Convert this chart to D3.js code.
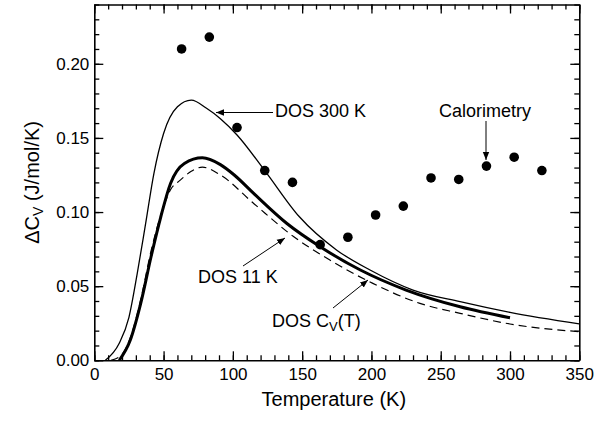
<!DOCTYPE html>
<html>
<head>
<meta charset="utf-8">
<script src="https://cdn.jsdelivr.net/npm/d3@7.9.0/dist/d3.min.js"></script>
<style>
  body { margin: 0; background: #fff; }
  svg { display: block; font-family: "Liberation Sans", Arial, Helvetica, sans-serif; }
  .axis path, .axis line { stroke: #000; }
  .axis text { fill: #000; }
</style>
</head>
<body>
<svg id="chart" width="608" height="425"></svg>
<script>
// calorimetry points
const calTemps = [63, 83, 103, 123, 143, 163, 183, 203, 223, 243, 263, 283, 303, 323];
const calValues = [0.210, 0.218, 0.157, 0.128, 0.120, 0.078, 0.083, 0.098, 0.104, 0.123, 0.122, 0.131, 0.137, 0.128];

// DOS 300 K (thin line)
const dos300Temps = [8, 18, 25, 31, 37, 43, 50, 60, 70, 81, 91, 103, 123, 148, 175, 199, 230, 264, 300, 350];
const dos300Values = [0, 0.0115, 0.029, 0.0586, 0.092, 0.126, 0.153, 0.171, 0.1755, 0.170, 0.163, 0.152, 0.128, 0.0968, 0.0743, 0.0609, 0.0474, 0.0395, 0.0323, 0.0245];

// DOS 11 K (thick line)
const dos11Temps = [18, 26, 33.5, 41, 48, 55, 65, 78, 91, 101, 115, 139, 163, 192, 225, 264, 300];
const dos11Values = [0, 0.0137, 0.0384, 0.070, 0.0968, 0.1193, 0.1328, 0.1366, 0.132, 0.125, 0.1126, 0.0923, 0.0766, 0.0609, 0.0474, 0.0361, 0.0287];

// DOS Cv(T) (dashed line)
const dosCvTemps = [12, 20, 27, 34, 41, 48, 55, 62, 70, 78, 91, 115, 144, 170, 201, 235, 264, 300, 350];
const dosCvValues = [0, 0.004, 0.018, 0.043, 0.074, 0.098, 0.115, 0.1215, 0.1275, 0.1303, 0.125, 0.1058, 0.0833, 0.0676, 0.0519, 0.0384, 0.0317, 0.0245, 0.0193];

const xMajor = [0, 50, 100, 150, 200, 250, 300, 350];
const yMajor = [0, 0.05, 0.10, 0.15, 0.20];

const margin = {top: 4.5, right: 28.7, bottom: 64.7, left: 94.3};
const W = 608, H = 425;
const iw = W - margin.left - margin.right;
const ih = H - margin.top - margin.bottom;

const svg = d3.select('#chart');
const g = svg.append('g').attr('transform', `translate(${margin.left},${margin.top})`);

const x = d3.scaleLinear().domain([0, 350]).range([0, iw]);
const y = d3.scaleLinear().domain([0, 0.24]).range([ih, 0]);

const xMinor = d3.range(0, 36).map(i => i * 10);
const yMinor = d3.range(0, 25).map(i => i / 100);

svg.append('defs').append('clipPath').attr('id', 'clip')
  .append('rect').attr('width', iw).attr('height', ih);

// minor ticks
g.append('g').attr('class', 'axis').attr('transform', `translate(0,${ih})`)
  .call(d3.axisBottom(x).tickValues(xMinor).tickSize(-5).tickFormat(''))
  .call(a => a.select('.domain').remove());
g.append('g').attr('class', 'axis')
  .call(d3.axisTop(x).tickValues(xMinor).tickSize(-5).tickFormat(''))
  .call(a => a.select('.domain').remove());
g.append('g').attr('class', 'axis')
  .call(d3.axisLeft(y).tickValues(yMinor).tickSize(-5).tickFormat(''))
  .call(a => a.select('.domain').remove());
g.append('g').attr('class', 'axis').attr('transform', `translate(${iw},0)`)
  .call(d3.axisRight(y).tickValues(yMinor).tickSize(-5).tickFormat(''))
  .call(a => a.select('.domain').remove());

// major ticks
g.append('g').attr('class', 'axis').attr('transform', `translate(0,${ih})`)
  .call(d3.axisBottom(x).tickValues(xMajor).tickSizeInner(-9).tickSizeOuter(0).tickPadding(8).tickFormat(d3.format('d')))
  .call(a => a.selectAll('text').attr('font-size', 17));
g.append('g').attr('class', 'axis')
  .call(d3.axisTop(x).tickValues(xMajor).tickSizeInner(-9).tickSizeOuter(0).tickFormat(''));
g.append('g').attr('class', 'axis')
  .call(d3.axisLeft(y).tickValues(yMajor).tickSizeInner(-9).tickSizeOuter(0).tickPadding(5).tickFormat(d3.format('.2f')))
  .call(a => a.selectAll('text').attr('font-size', 17));
g.append('g').attr('class', 'axis').attr('transform', `translate(${iw},0)`)
  .call(d3.axisRight(y).tickValues(yMajor).tickSizeInner(-9).tickSizeOuter(0).tickFormat(''));

g.selectAll('.axis line').attr('stroke-width', 1.3);
g.selectAll('.axis .domain').attr('stroke-width', 1.6);

// curves
const line = d3.line().x(d => x(d[0])).y(d => y(d[1])).curve(d3.curveMonotoneX);
const plot = g.append('g').attr('clip-path', 'url(#clip)');

plot.append('path').datum(d3.zip(dosCvTemps, dosCvValues))
  .attr('d', line).attr('fill', 'none').attr('stroke', '#000')
  .attr('stroke-width', 1.2).attr('stroke-dasharray', '8,5');
plot.append('path').datum(d3.zip(dos300Temps, dos300Values))
  .attr('d', line).attr('fill', 'none').attr('stroke', '#000').attr('stroke-width', 1.3);
plot.append('path').datum(d3.zip(dos11Temps, dos11Values))
  .attr('d', line).attr('fill', 'none').attr('stroke', '#000').attr('stroke-width', 3);

plot.selectAll('circle').data(d3.zip(calTemps, calValues)).enter()
  .append('circle')
  .attr('cx', d => x(d[0])).attr('cy', d => y(d[1])).attr('r', 4.8).attr('fill', '#000');

// annotations
svg.select('defs').append('marker')
  .attr('id', 'arrow').attr('viewBox', '0 0 10 10').attr('refX', 10).attr('refY', 5)
  .attr('markerWidth', 8).attr('markerHeight', 8).attr('markerUnits', 'userSpaceOnUse')
  .attr('orient', 'auto')
  .append('path').attr('d', 'M0,1L10,5L0,9Z').attr('fill', '#000');

const notes = svg.append('g').attr('font-size', 18);
function arrow(x1, y1, x2, y2) {
  notes.append('line').attr('x1', x1).attr('y1', y1).attr('x2', x2).attr('y2', y2)
    .attr('stroke', '#000').attr('stroke-width', 1).attr('marker-end', 'url(#arrow)');
}

notes.append('text').attr('x', 275).attr('y', 117).text('DOS 300 K');
arrow(273, 112.5, 216, 112.5);

notes.append('text').attr('x', 439).attr('y', 116.5).text('Calorimetry');
arrow(486, 121, 486, 160);

notes.append('text').attr('x', 198).attr('y', 283).text('DOS 11 K');
arrow(243, 266, 285, 238);

const cv = notes.append('text').attr('x', 272).attr('y', 326.5);
cv.append('tspan').text('DOS C');
cv.append('tspan').attr('font-size', 13).attr('dy', 4).text('V');
cv.append('tspan').attr('dy', -4).text('(T)');
arrow(333, 308, 368, 280);

// axis titles
svg.append('text').attr('x', margin.left + iw / 2 - 3).attr('y', 406)
  .attr('text-anchor', 'middle').attr('font-size', 20).text('Temperature (K)');

const yt = svg.append('text').attr('transform', `translate(39,${margin.top + ih / 2}) rotate(-90)`)
  .attr('text-anchor', 'middle').attr('font-size', 20);
yt.append('tspan').text('\u0394C');
yt.append('tspan').attr('font-size', 14).attr('dy', 4).text('V');
yt.append('tspan').attr('dy', -4).text(' (J/mol/K)');
</script>
</body>
</html>
